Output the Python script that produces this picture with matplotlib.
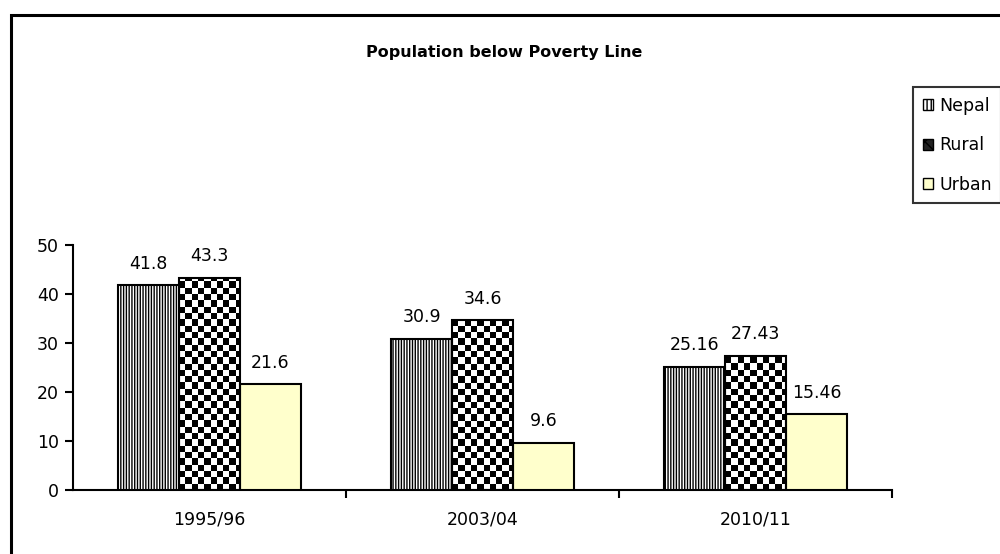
import numpy as np
import matplotlib.pyplot as plt
from matplotlib.patches import Patch, Rectangle

plt.rcParams['font.family'] = ['DejaVu Sans']
plt.rcParams['hatch.linewidth'] = 1.0

# Population below poverty line (%)
years = ['1995/96', '2003/04', '2010/11']
nepal = [41.8, 30.9, 25.16]
rural = [43.3, 34.6, 27.43]
urban = [21.6, 9.6, 15.46]

fig = plt.figure(figsize=(10, 5.54), dpi=100)
ax = fig.add_axes([0.073, 0.1155, 0.819, 0.4422])

x = np.arange(len(years))
w = 0.223

b_nepal = ax.bar(x - w, nepal, w, facecolor='white', edgecolor='black',
                 hatch='||||||', linewidth=1.5, zorder=3)
b_rural = ax.bar(x, rural, w, facecolor='none', edgecolor='black',
                 linewidth=1.5, zorder=4)
b_urban = ax.bar(x + w, urban, w, facecolor='#FFFFCC', edgecolor='black',
                 linewidth=1.5, zorder=3)

ax.set_xlim(-0.5, 2.5)
ax.set_ylim(0, 50)

# checkerboard fill for the rural bars, ~6 px cells
px = ax.transData.transform([(0, 0), (1, 1)])
cx = 6.3 / (px[1, 0] - px[0, 0])
cy = 6.3 / (px[1, 1] - px[0, 1])
for bar in b_rural:
    x0 = bar.get_x()
    ncol = int(np.ceil(bar.get_width() / cx)) + 1
    nrow = int(np.ceil(bar.get_height() / cy)) + 1
    board = (np.add.outer(np.arange(nrow), np.arange(ncol)) % 2).astype(float)
    im = ax.imshow(board, cmap='gray', origin='lower', interpolation='nearest',
                   extent=(x0, x0 + ncol * cx, 0, nrow * cy), aspect='auto',
                   zorder=2)
    im.set_clip_path(bar)

ax.set_xlim(-0.5, 2.5)
ax.set_ylim(0, 50)

# value labels
for bars, vals in [(b_nepal, nepal), (b_rural, rural), (b_urban, urban)]:
    for bar, v in zip(bars, vals):
        ax.annotate(f'{v:g}', (bar.get_x() + bar.get_width() / 2, v),
                    xytext=(0, 9), textcoords='offset points',
                    ha='center', va='bottom', fontsize=12.5)

ax.set_xticks(x)
ax.set_xticklabels(years, fontsize=12.5)
ax.tick_params(axis='x', which='major', length=0, pad=15)
ax.set_xticks([0.5, 1.5, 2.5], minor=True)
ax.tick_params(axis='x', which='minor', length=6, width=1.5, direction='out')
ax.set_yticks(range(0, 51, 10))
ax.tick_params(axis='y', length=6, width=1.5, labelsize=12.5, pad=4)

for side in ['top', 'right']:
    ax.spines[side].set_visible(False)
for side in ['left', 'bottom']:
    ax.spines[side].set_linewidth(1.5)

fig.text(0.504, 0.906, 'Population below Poverty Line', ha='center', va='center',
         fontsize=11.5, fontweight='bold')

handles = [
    Patch(facecolor='white', edgecolor='black', hatch='||||'),
    Patch(facecolor='#222222', edgecolor='black', hatch='xx'),
    Patch(facecolor='#FFFFCC', edgecolor='black'),
]
leg = fig.legend(handles, ['Nepal', 'Rural', 'Urban'], loc='upper left',
                 bbox_to_anchor=(0.913, 0.843), fontsize=12.5, frameon=True,
                 fancybox=False, handlelength=0.6, handleheight=0.6,
                 handletextpad=0.35, labelspacing=1.25, borderpad=0.55,
                 borderaxespad=0)
leg.get_frame().set_edgecolor('black')
leg.get_frame().set_linewidth(1.5)

# chart border
fig.add_artist(Rectangle((0.011, -0.1), 1.2, 1.073, transform=fig.transFigure,
                         fill=False, edgecolor='black', linewidth=2.2,
                         clip_on=False))

fig.savefig('out.png', dpi=100)
